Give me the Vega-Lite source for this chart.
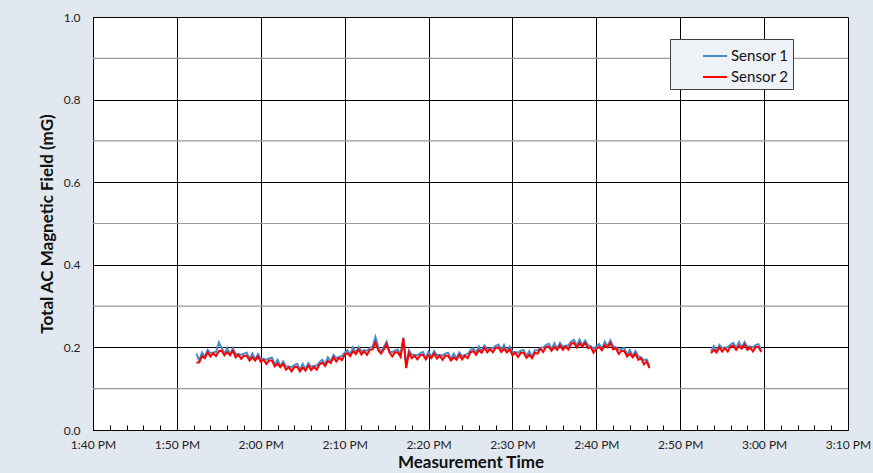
{
  "$schema": "https://vega.github.io/schema/vega-lite/v6.json",
  "autosize": {"type": "none"},
  "width": 755,
  "height": 413,
  "padding": {"left": 93, "top": 17, "right": 25, "bottom": 43},
  "background": "#e2e8f0",
  "config": {"font": "Lato", "view": {"fill": "white", "stroke": null}},
  "datasets": {
    "s1": [
      {"t":"2024-01-01T13:52:20","sensor":"Sensor 1","value":0.185,"segment":1},
      {"t":"2024-01-01T13:52:40","sensor":"Sensor 1","value":0.168,"segment":1},
      {"t":"2024-01-01T13:53:00","sensor":"Sensor 1","value":0.188,"segment":1},
      {"t":"2024-01-01T13:53:20","sensor":"Sensor 1","value":0.177,"segment":1},
      {"t":"2024-01-01T13:53:40","sensor":"Sensor 1","value":0.194,"segment":1},
      {"t":"2024-01-01T13:54:00","sensor":"Sensor 1","value":0.186,"segment":1},
      {"t":"2024-01-01T13:54:20","sensor":"Sensor 1","value":0.188,"segment":1},
      {"t":"2024-01-01T13:54:40","sensor":"Sensor 1","value":0.189,"segment":1},
      {"t":"2024-01-01T13:55:00","sensor":"Sensor 1","value":0.212,"segment":1},
      {"t":"2024-01-01T13:55:20","sensor":"Sensor 1","value":0.199,"segment":1},
      {"t":"2024-01-01T13:55:40","sensor":"Sensor 1","value":0.185,"segment":1},
      {"t":"2024-01-01T13:56:00","sensor":"Sensor 1","value":0.198,"segment":1},
      {"t":"2024-01-01T13:56:20","sensor":"Sensor 1","value":0.184,"segment":1},
      {"t":"2024-01-01T13:56:40","sensor":"Sensor 1","value":0.198,"segment":1},
      {"t":"2024-01-01T13:57:00","sensor":"Sensor 1","value":0.184,"segment":1},
      {"t":"2024-01-01T13:57:20","sensor":"Sensor 1","value":0.184,"segment":1},
      {"t":"2024-01-01T13:57:40","sensor":"Sensor 1","value":0.182,"segment":1},
      {"t":"2024-01-01T13:58:00","sensor":"Sensor 1","value":0.185,"segment":1},
      {"t":"2024-01-01T13:58:20","sensor":"Sensor 1","value":0.187,"segment":1},
      {"t":"2024-01-01T13:58:40","sensor":"Sensor 1","value":0.172,"segment":1},
      {"t":"2024-01-01T13:59:00","sensor":"Sensor 1","value":0.185,"segment":1},
      {"t":"2024-01-01T13:59:20","sensor":"Sensor 1","value":0.171,"segment":1},
      {"t":"2024-01-01T13:59:40","sensor":"Sensor 1","value":0.184,"segment":1},
      {"t":"2024-01-01T14:00:00","sensor":"Sensor 1","value":0.173,"segment":1},
      {"t":"2024-01-01T14:00:20","sensor":"Sensor 1","value":0.172,"segment":1},
      {"t":"2024-01-01T14:00:40","sensor":"Sensor 1","value":0.170,"segment":1},
      {"t":"2024-01-01T14:01:00","sensor":"Sensor 1","value":0.174,"segment":1},
      {"t":"2024-01-01T14:01:20","sensor":"Sensor 1","value":0.175,"segment":1},
      {"t":"2024-01-01T14:01:40","sensor":"Sensor 1","value":0.158,"segment":1},
      {"t":"2024-01-01T14:02:00","sensor":"Sensor 1","value":0.170,"segment":1},
      {"t":"2024-01-01T14:02:20","sensor":"Sensor 1","value":0.155,"segment":1},
      {"t":"2024-01-01T14:02:40","sensor":"Sensor 1","value":0.166,"segment":1},
      {"t":"2024-01-01T14:03:00","sensor":"Sensor 1","value":0.154,"segment":1},
      {"t":"2024-01-01T14:03:20","sensor":"Sensor 1","value":0.154,"segment":1},
      {"t":"2024-01-01T14:03:40","sensor":"Sensor 1","value":0.152,"segment":1},
      {"t":"2024-01-01T14:04:00","sensor":"Sensor 1","value":0.157,"segment":1},
      {"t":"2024-01-01T14:04:20","sensor":"Sensor 1","value":0.160,"segment":1},
      {"t":"2024-01-01T14:04:40","sensor":"Sensor 1","value":0.146,"segment":1},
      {"t":"2024-01-01T14:05:00","sensor":"Sensor 1","value":0.160,"segment":1},
      {"t":"2024-01-01T14:05:20","sensor":"Sensor 1","value":0.147,"segment":1},
      {"t":"2024-01-01T14:05:40","sensor":"Sensor 1","value":0.162,"segment":1},
      {"t":"2024-01-01T14:06:00","sensor":"Sensor 1","value":0.153,"segment":1},
      {"t":"2024-01-01T14:06:20","sensor":"Sensor 1","value":0.155,"segment":1},
      {"t":"2024-01-01T14:06:40","sensor":"Sensor 1","value":0.156,"segment":1},
      {"t":"2024-01-01T14:07:00","sensor":"Sensor 1","value":0.164,"segment":1},
      {"t":"2024-01-01T14:07:20","sensor":"Sensor 1","value":0.170,"segment":1},
      {"t":"2024-01-01T14:07:40","sensor":"Sensor 1","value":0.159,"segment":1},
      {"t":"2024-01-01T14:08:00","sensor":"Sensor 1","value":0.176,"segment":1},
      {"t":"2024-01-01T14:08:20","sensor":"Sensor 1","value":0.165,"segment":1},
      {"t":"2024-01-01T14:08:40","sensor":"Sensor 1","value":0.182,"segment":1},
      {"t":"2024-01-01T14:09:00","sensor":"Sensor 1","value":0.174,"segment":1},
      {"t":"2024-01-01T14:09:20","sensor":"Sensor 1","value":0.177,"segment":1},
      {"t":"2024-01-01T14:09:40","sensor":"Sensor 1","value":0.179,"segment":1},
      {"t":"2024-01-01T14:10:00","sensor":"Sensor 1","value":0.187,"segment":1},
      {"t":"2024-01-01T14:10:20","sensor":"Sensor 1","value":0.193,"segment":1},
      {"t":"2024-01-01T14:10:40","sensor":"Sensor 1","value":0.183,"segment":1},
      {"t":"2024-01-01T14:11:00","sensor":"Sensor 1","value":0.200,"segment":1},
      {"t":"2024-01-01T14:11:20","sensor":"Sensor 1","value":0.187,"segment":1},
      {"t":"2024-01-01T14:11:40","sensor":"Sensor 1","value":0.201,"segment":1},
      {"t":"2024-01-01T14:12:00","sensor":"Sensor 1","value":0.191,"segment":1},
      {"t":"2024-01-01T14:12:20","sensor":"Sensor 1","value":0.193,"segment":1},
      {"t":"2024-01-01T14:12:40","sensor":"Sensor 1","value":0.192,"segment":1},
      {"t":"2024-01-01T14:13:00","sensor":"Sensor 1","value":0.199,"segment":1},
      {"t":"2024-01-01T14:13:20","sensor":"Sensor 1","value":0.202,"segment":1},
      {"t":"2024-01-01T14:13:40","sensor":"Sensor 1","value":0.225,"segment":1},
      {"t":"2024-01-01T14:14:00","sensor":"Sensor 1","value":0.202,"segment":1},
      {"t":"2024-01-01T14:14:20","sensor":"Sensor 1","value":0.188,"segment":1},
      {"t":"2024-01-01T14:14:40","sensor":"Sensor 1","value":0.201,"segment":1},
      {"t":"2024-01-01T14:15:00","sensor":"Sensor 1","value":0.214,"segment":1},
      {"t":"2024-01-01T14:15:20","sensor":"Sensor 1","value":0.190,"segment":1},
      {"t":"2024-01-01T14:15:40","sensor":"Sensor 1","value":0.188,"segment":1},
      {"t":"2024-01-01T14:16:00","sensor":"Sensor 1","value":0.193,"segment":1},
      {"t":"2024-01-01T14:16:20","sensor":"Sensor 1","value":0.195,"segment":1},
      {"t":"2024-01-01T14:16:40","sensor":"Sensor 1","value":0.181,"segment":1},
      {"t":"2024-01-01T14:17:00","sensor":"Sensor 1","value":0.224,"segment":1},
      {"t":"2024-01-01T14:17:20","sensor":"Sensor 1","value":0.158,"segment":1},
      {"t":"2024-01-01T14:17:40","sensor":"Sensor 1","value":0.193,"segment":1},
      {"t":"2024-01-01T14:18:00","sensor":"Sensor 1","value":0.182,"segment":1},
      {"t":"2024-01-01T14:18:20","sensor":"Sensor 1","value":0.182,"segment":1},
      {"t":"2024-01-01T14:18:40","sensor":"Sensor 1","value":0.181,"segment":1},
      {"t":"2024-01-01T14:19:00","sensor":"Sensor 1","value":0.186,"segment":1},
      {"t":"2024-01-01T14:19:20","sensor":"Sensor 1","value":0.189,"segment":1},
      {"t":"2024-01-01T14:19:40","sensor":"Sensor 1","value":0.175,"segment":1},
      {"t":"2024-01-01T14:20:00","sensor":"Sensor 1","value":0.190,"segment":1},
      {"t":"2024-01-01T14:20:20","sensor":"Sensor 1","value":0.177,"segment":1},
      {"t":"2024-01-01T14:20:40","sensor":"Sensor 1","value":0.191,"segment":1},
      {"t":"2024-01-01T14:21:00","sensor":"Sensor 1","value":0.181,"segment":1},
      {"t":"2024-01-01T14:21:20","sensor":"Sensor 1","value":0.182,"segment":1},
      {"t":"2024-01-01T14:21:40","sensor":"Sensor 1","value":0.180,"segment":1},
      {"t":"2024-01-01T14:22:00","sensor":"Sensor 1","value":0.185,"segment":1},
      {"t":"2024-01-01T14:22:20","sensor":"Sensor 1","value":0.187,"segment":1},
      {"t":"2024-01-01T14:22:40","sensor":"Sensor 1","value":0.172,"segment":1},
      {"t":"2024-01-01T14:23:00","sensor":"Sensor 1","value":0.185,"segment":1},
      {"t":"2024-01-01T14:23:20","sensor":"Sensor 1","value":0.173,"segment":1},
      {"t":"2024-01-01T14:23:40","sensor":"Sensor 1","value":0.188,"segment":1},
      {"t":"2024-01-01T14:24:00","sensor":"Sensor 1","value":0.179,"segment":1},
      {"t":"2024-01-01T14:24:20","sensor":"Sensor 1","value":0.182,"segment":1},
      {"t":"2024-01-01T14:24:40","sensor":"Sensor 1","value":0.184,"segment":1},
      {"t":"2024-01-01T14:25:00","sensor":"Sensor 1","value":0.193,"segment":1},
      {"t":"2024-01-01T14:25:20","sensor":"Sensor 1","value":0.198,"segment":1},
      {"t":"2024-01-01T14:25:40","sensor":"Sensor 1","value":0.186,"segment":1},
      {"t":"2024-01-01T14:26:00","sensor":"Sensor 1","value":0.202,"segment":1},
      {"t":"2024-01-01T14:26:20","sensor":"Sensor 1","value":0.190,"segment":1},
      {"t":"2024-01-01T14:26:40","sensor":"Sensor 1","value":0.205,"segment":1},
      {"t":"2024-01-01T14:27:00","sensor":"Sensor 1","value":0.196,"segment":1},
      {"t":"2024-01-01T14:27:20","sensor":"Sensor 1","value":0.198,"segment":1},
      {"t":"2024-01-01T14:27:40","sensor":"Sensor 1","value":0.198,"segment":1},
      {"t":"2024-01-01T14:28:00","sensor":"Sensor 1","value":0.204,"segment":1},
      {"t":"2024-01-01T14:28:20","sensor":"Sensor 1","value":0.207,"segment":1},
      {"t":"2024-01-01T14:28:40","sensor":"Sensor 1","value":0.193,"segment":1},
      {"t":"2024-01-01T14:29:00","sensor":"Sensor 1","value":0.206,"segment":1},
      {"t":"2024-01-01T14:29:20","sensor":"Sensor 1","value":0.191,"segment":1},
      {"t":"2024-01-01T14:29:40","sensor":"Sensor 1","value":0.202,"segment":1},
      {"t":"2024-01-01T14:30:00","sensor":"Sensor 1","value":0.189,"segment":1},
      {"t":"2024-01-01T14:30:20","sensor":"Sensor 1","value":0.189,"segment":1},
      {"t":"2024-01-01T14:30:40","sensor":"Sensor 1","value":0.187,"segment":1},
      {"t":"2024-01-01T14:31:00","sensor":"Sensor 1","value":0.192,"segment":1},
      {"t":"2024-01-01T14:31:20","sensor":"Sensor 1","value":0.194,"segment":1},
      {"t":"2024-01-01T14:31:40","sensor":"Sensor 1","value":0.179,"segment":1},
      {"t":"2024-01-01T14:32:00","sensor":"Sensor 1","value":0.191,"segment":1},
      {"t":"2024-01-01T14:32:20","sensor":"Sensor 1","value":0.177,"segment":1},
      {"t":"2024-01-01T14:32:40","sensor":"Sensor 1","value":0.193,"segment":1},
      {"t":"2024-01-01T14:33:00","sensor":"Sensor 1","value":0.193,"segment":1},
      {"t":"2024-01-01T14:33:20","sensor":"Sensor 1","value":0.199,"segment":1},
      {"t":"2024-01-01T14:33:40","sensor":"Sensor 1","value":0.199,"segment":1},
      {"t":"2024-01-01T14:34:00","sensor":"Sensor 1","value":0.206,"segment":1},
      {"t":"2024-01-01T14:34:20","sensor":"Sensor 1","value":0.209,"segment":1},
      {"t":"2024-01-01T14:34:40","sensor":"Sensor 1","value":0.196,"segment":1},
      {"t":"2024-01-01T14:35:00","sensor":"Sensor 1","value":0.210,"segment":1},
      {"t":"2024-01-01T14:35:20","sensor":"Sensor 1","value":0.197,"segment":1},
      {"t":"2024-01-01T14:35:40","sensor":"Sensor 1","value":0.211,"segment":1},
      {"t":"2024-01-01T14:36:00","sensor":"Sensor 1","value":0.202,"segment":1},
      {"t":"2024-01-01T14:36:20","sensor":"Sensor 1","value":0.204,"segment":1},
      {"t":"2024-01-01T14:36:40","sensor":"Sensor 1","value":0.205,"segment":1},
      {"t":"2024-01-01T14:37:00","sensor":"Sensor 1","value":0.214,"segment":1},
      {"t":"2024-01-01T14:37:20","sensor":"Sensor 1","value":0.218,"segment":1},
      {"t":"2024-01-01T14:37:40","sensor":"Sensor 1","value":0.204,"segment":1},
      {"t":"2024-01-01T14:38:00","sensor":"Sensor 1","value":0.219,"segment":1},
      {"t":"2024-01-01T14:38:20","sensor":"Sensor 1","value":0.205,"segment":1},
      {"t":"2024-01-01T14:38:40","sensor":"Sensor 1","value":0.217,"segment":1},
      {"t":"2024-01-01T14:39:00","sensor":"Sensor 1","value":0.206,"segment":1},
      {"t":"2024-01-01T14:39:20","sensor":"Sensor 1","value":0.203,"segment":1},
      {"t":"2024-01-01T14:39:40","sensor":"Sensor 1","value":0.197,"segment":1},
      {"t":"2024-01-01T14:40:00","sensor":"Sensor 1","value":0.202,"segment":1},
      {"t":"2024-01-01T14:40:20","sensor":"Sensor 1","value":0.208,"segment":1},
      {"t":"2024-01-01T14:40:40","sensor":"Sensor 1","value":0.197,"segment":1},
      {"t":"2024-01-01T14:41:00","sensor":"Sensor 1","value":0.214,"segment":1},
      {"t":"2024-01-01T14:41:20","sensor":"Sensor 1","value":0.203,"segment":1},
      {"t":"2024-01-01T14:41:40","sensor":"Sensor 1","value":0.217,"segment":1},
      {"t":"2024-01-01T14:42:00","sensor":"Sensor 1","value":0.203,"segment":1},
      {"t":"2024-01-01T14:42:20","sensor":"Sensor 1","value":0.200,"segment":1},
      {"t":"2024-01-01T14:42:40","sensor":"Sensor 1","value":0.194,"segment":1},
      {"t":"2024-01-01T14:43:00","sensor":"Sensor 1","value":0.197,"segment":1},
      {"t":"2024-01-01T14:43:20","sensor":"Sensor 1","value":0.198,"segment":1},
      {"t":"2024-01-01T14:43:40","sensor":"Sensor 1","value":0.182,"segment":1},
      {"t":"2024-01-01T14:44:00","sensor":"Sensor 1","value":0.194,"segment":1},
      {"t":"2024-01-01T14:44:20","sensor":"Sensor 1","value":0.179,"segment":1},
      {"t":"2024-01-01T14:44:40","sensor":"Sensor 1","value":0.191,"segment":1},
      {"t":"2024-01-01T14:45:00","sensor":"Sensor 1","value":0.178,"segment":1},
      {"t":"2024-01-01T14:45:20","sensor":"Sensor 1","value":0.176,"segment":1},
      {"t":"2024-01-01T14:45:40","sensor":"Sensor 1","value":0.169,"segment":1},
      {"t":"2024-01-01T14:46:00","sensor":"Sensor 1","value":0.171,"segment":1},
      {"t":"2024-01-01T14:46:20","sensor":"Sensor 1","value":0.156,"segment":1},
      {"t":"2024-01-01T14:53:40","sensor":"Sensor 1","value":0.190,"segment":2},
      {"t":"2024-01-01T14:54:00","sensor":"Sensor 1","value":0.203,"segment":2},
      {"t":"2024-01-01T14:54:20","sensor":"Sensor 1","value":0.191,"segment":2},
      {"t":"2024-01-01T14:54:40","sensor":"Sensor 1","value":0.206,"segment":2},
      {"t":"2024-01-01T14:55:00","sensor":"Sensor 1","value":0.198,"segment":2},
      {"t":"2024-01-01T14:55:20","sensor":"Sensor 1","value":0.200,"segment":2},
      {"t":"2024-01-01T14:55:40","sensor":"Sensor 1","value":0.200,"segment":2},
      {"t":"2024-01-01T14:56:00","sensor":"Sensor 1","value":0.207,"segment":2},
      {"t":"2024-01-01T14:56:20","sensor":"Sensor 1","value":0.211,"segment":2},
      {"t":"2024-01-01T14:56:40","sensor":"Sensor 1","value":0.198,"segment":2},
      {"t":"2024-01-01T14:57:00","sensor":"Sensor 1","value":0.213,"segment":2},
      {"t":"2024-01-01T14:57:20","sensor":"Sensor 1","value":0.200,"segment":2},
      {"t":"2024-01-01T14:57:40","sensor":"Sensor 1","value":0.213,"segment":2},
      {"t":"2024-01-01T14:58:00","sensor":"Sensor 1","value":0.202,"segment":2},
      {"t":"2024-01-01T14:58:20","sensor":"Sensor 1","value":0.202,"segment":2},
      {"t":"2024-01-01T14:58:40","sensor":"Sensor 1","value":0.200,"segment":2},
      {"t":"2024-01-01T14:59:00","sensor":"Sensor 1","value":0.206,"segment":2},
      {"t":"2024-01-01T14:59:20","sensor":"Sensor 1","value":0.208,"segment":2},
      {"t":"2024-01-01T14:59:40","sensor":"Sensor 1","value":0.193,"segment":2}
    ],
    "s2": [
      {"t":"2024-01-01T13:52:20","sensor":"Sensor 2","value":0.163,"segment":1},
      {"t":"2024-01-01T13:52:40","sensor":"Sensor 2","value":0.164,"segment":1},
      {"t":"2024-01-01T13:53:00","sensor":"Sensor 2","value":0.179,"segment":1},
      {"t":"2024-01-01T13:53:20","sensor":"Sensor 2","value":0.174,"segment":1},
      {"t":"2024-01-01T13:53:40","sensor":"Sensor 2","value":0.188,"segment":1},
      {"t":"2024-01-01T13:54:00","sensor":"Sensor 2","value":0.178,"segment":1},
      {"t":"2024-01-01T13:54:20","sensor":"Sensor 2","value":0.186,"segment":1},
      {"t":"2024-01-01T13:54:40","sensor":"Sensor 2","value":0.179,"segment":1},
      {"t":"2024-01-01T13:55:00","sensor":"Sensor 2","value":0.191,"segment":1},
      {"t":"2024-01-01T13:55:20","sensor":"Sensor 2","value":0.192,"segment":1},
      {"t":"2024-01-01T13:55:40","sensor":"Sensor 2","value":0.181,"segment":1},
      {"t":"2024-01-01T13:56:00","sensor":"Sensor 2","value":0.189,"segment":1},
      {"t":"2024-01-01T13:56:20","sensor":"Sensor 2","value":0.181,"segment":1},
      {"t":"2024-01-01T13:56:40","sensor":"Sensor 2","value":0.192,"segment":1},
      {"t":"2024-01-01T13:57:00","sensor":"Sensor 2","value":0.176,"segment":1},
      {"t":"2024-01-01T13:57:20","sensor":"Sensor 2","value":0.182,"segment":1},
      {"t":"2024-01-01T13:57:40","sensor":"Sensor 2","value":0.172,"segment":1},
      {"t":"2024-01-01T13:58:00","sensor":"Sensor 2","value":0.180,"segment":1},
      {"t":"2024-01-01T13:58:20","sensor":"Sensor 2","value":0.180,"segment":1},
      {"t":"2024-01-01T13:58:40","sensor":"Sensor 2","value":0.168,"segment":1},
      {"t":"2024-01-01T13:59:00","sensor":"Sensor 2","value":0.176,"segment":1},
      {"t":"2024-01-01T13:59:20","sensor":"Sensor 2","value":0.168,"segment":1},
      {"t":"2024-01-01T13:59:40","sensor":"Sensor 2","value":0.178,"segment":1},
      {"t":"2024-01-01T14:00:00","sensor":"Sensor 2","value":0.165,"segment":1},
      {"t":"2024-01-01T14:00:20","sensor":"Sensor 2","value":0.170,"segment":1},
      {"t":"2024-01-01T14:00:40","sensor":"Sensor 2","value":0.160,"segment":1},
      {"t":"2024-01-01T14:01:00","sensor":"Sensor 2","value":0.169,"segment":1},
      {"t":"2024-01-01T14:01:20","sensor":"Sensor 2","value":0.168,"segment":1},
      {"t":"2024-01-01T14:01:40","sensor":"Sensor 2","value":0.154,"segment":1},
      {"t":"2024-01-01T14:02:00","sensor":"Sensor 2","value":0.161,"segment":1},
      {"t":"2024-01-01T14:02:20","sensor":"Sensor 2","value":0.152,"segment":1},
      {"t":"2024-01-01T14:02:40","sensor":"Sensor 2","value":0.160,"segment":1},
      {"t":"2024-01-01T14:03:00","sensor":"Sensor 2","value":0.146,"segment":1},
      {"t":"2024-01-01T14:03:20","sensor":"Sensor 2","value":0.152,"segment":1},
      {"t":"2024-01-01T14:03:40","sensor":"Sensor 2","value":0.142,"segment":1},
      {"t":"2024-01-01T14:04:00","sensor":"Sensor 2","value":0.152,"segment":1},
      {"t":"2024-01-01T14:04:20","sensor":"Sensor 2","value":0.153,"segment":1},
      {"t":"2024-01-01T14:04:40","sensor":"Sensor 2","value":0.142,"segment":1},
      {"t":"2024-01-01T14:05:00","sensor":"Sensor 2","value":0.151,"segment":1},
      {"t":"2024-01-01T14:05:20","sensor":"Sensor 2","value":0.144,"segment":1},
      {"t":"2024-01-01T14:05:40","sensor":"Sensor 2","value":0.156,"segment":1},
      {"t":"2024-01-01T14:06:00","sensor":"Sensor 2","value":0.145,"segment":1},
      {"t":"2024-01-01T14:06:20","sensor":"Sensor 2","value":0.153,"segment":1},
      {"t":"2024-01-01T14:06:40","sensor":"Sensor 2","value":0.146,"segment":1},
      {"t":"2024-01-01T14:07:00","sensor":"Sensor 2","value":0.159,"segment":1},
      {"t":"2024-01-01T14:07:20","sensor":"Sensor 2","value":0.163,"segment":1},
      {"t":"2024-01-01T14:07:40","sensor":"Sensor 2","value":0.155,"segment":1},
      {"t":"2024-01-01T14:08:00","sensor":"Sensor 2","value":0.167,"segment":1},
      {"t":"2024-01-01T14:08:20","sensor":"Sensor 2","value":0.162,"segment":1},
      {"t":"2024-01-01T14:08:40","sensor":"Sensor 2","value":0.176,"segment":1},
      {"t":"2024-01-01T14:09:00","sensor":"Sensor 2","value":0.166,"segment":1},
      {"t":"2024-01-01T14:09:20","sensor":"Sensor 2","value":0.175,"segment":1},
      {"t":"2024-01-01T14:09:40","sensor":"Sensor 2","value":0.169,"segment":1},
      {"t":"2024-01-01T14:10:00","sensor":"Sensor 2","value":0.182,"segment":1},
      {"t":"2024-01-01T14:10:20","sensor":"Sensor 2","value":0.186,"segment":1},
      {"t":"2024-01-01T14:10:40","sensor":"Sensor 2","value":0.179,"segment":1},
      {"t":"2024-01-01T14:11:00","sensor":"Sensor 2","value":0.191,"segment":1},
      {"t":"2024-01-01T14:11:20","sensor":"Sensor 2","value":0.184,"segment":1},
      {"t":"2024-01-01T14:11:40","sensor":"Sensor 2","value":0.195,"segment":1},
      {"t":"2024-01-01T14:12:00","sensor":"Sensor 2","value":0.183,"segment":1},
      {"t":"2024-01-01T14:12:20","sensor":"Sensor 2","value":0.191,"segment":1},
      {"t":"2024-01-01T14:12:40","sensor":"Sensor 2","value":0.182,"segment":1},
      {"t":"2024-01-01T14:13:00","sensor":"Sensor 2","value":0.194,"segment":1},
      {"t":"2024-01-01T14:13:20","sensor":"Sensor 2","value":0.195,"segment":1},
      {"t":"2024-01-01T14:13:40","sensor":"Sensor 2","value":0.212,"segment":1},
      {"t":"2024-01-01T14:14:00","sensor":"Sensor 2","value":0.193,"segment":1},
      {"t":"2024-01-01T14:14:20","sensor":"Sensor 2","value":0.185,"segment":1},
      {"t":"2024-01-01T14:14:40","sensor":"Sensor 2","value":0.195,"segment":1},
      {"t":"2024-01-01T14:15:00","sensor":"Sensor 2","value":0.208,"segment":1},
      {"t":"2024-01-01T14:15:20","sensor":"Sensor 2","value":0.188,"segment":1},
      {"t":"2024-01-01T14:15:40","sensor":"Sensor 2","value":0.178,"segment":1},
      {"t":"2024-01-01T14:16:00","sensor":"Sensor 2","value":0.188,"segment":1},
      {"t":"2024-01-01T14:16:20","sensor":"Sensor 2","value":0.188,"segment":1},
      {"t":"2024-01-01T14:16:40","sensor":"Sensor 2","value":0.177,"segment":1},
      {"t":"2024-01-01T14:17:00","sensor":"Sensor 2","value":0.222,"segment":1},
      {"t":"2024-01-01T14:17:20","sensor":"Sensor 2","value":0.150,"segment":1},
      {"t":"2024-01-01T14:17:40","sensor":"Sensor 2","value":0.187,"segment":1},
      {"t":"2024-01-01T14:18:00","sensor":"Sensor 2","value":0.174,"segment":1},
      {"t":"2024-01-01T14:18:20","sensor":"Sensor 2","value":0.180,"segment":1},
      {"t":"2024-01-01T14:18:40","sensor":"Sensor 2","value":0.171,"segment":1},
      {"t":"2024-01-01T14:19:00","sensor":"Sensor 2","value":0.181,"segment":1},
      {"t":"2024-01-01T14:19:20","sensor":"Sensor 2","value":0.182,"segment":1},
      {"t":"2024-01-01T14:19:40","sensor":"Sensor 2","value":0.171,"segment":1},
      {"t":"2024-01-01T14:20:00","sensor":"Sensor 2","value":0.181,"segment":1},
      {"t":"2024-01-01T14:20:20","sensor":"Sensor 2","value":0.174,"segment":1},
      {"t":"2024-01-01T14:20:40","sensor":"Sensor 2","value":0.185,"segment":1},
      {"t":"2024-01-01T14:21:00","sensor":"Sensor 2","value":0.173,"segment":1},
      {"t":"2024-01-01T14:21:20","sensor":"Sensor 2","value":0.180,"segment":1},
      {"t":"2024-01-01T14:21:40","sensor":"Sensor 2","value":0.170,"segment":1},
      {"t":"2024-01-01T14:22:00","sensor":"Sensor 2","value":0.180,"segment":1},
      {"t":"2024-01-01T14:22:20","sensor":"Sensor 2","value":0.180,"segment":1},
      {"t":"2024-01-01T14:22:40","sensor":"Sensor 2","value":0.168,"segment":1},
      {"t":"2024-01-01T14:23:00","sensor":"Sensor 2","value":0.176,"segment":1},
      {"t":"2024-01-01T14:23:20","sensor":"Sensor 2","value":0.170,"segment":1},
      {"t":"2024-01-01T14:23:40","sensor":"Sensor 2","value":0.182,"segment":1},
      {"t":"2024-01-01T14:24:00","sensor":"Sensor 2","value":0.171,"segment":1},
      {"t":"2024-01-01T14:24:20","sensor":"Sensor 2","value":0.180,"segment":1},
      {"t":"2024-01-01T14:24:40","sensor":"Sensor 2","value":0.174,"segment":1},
      {"t":"2024-01-01T14:25:00","sensor":"Sensor 2","value":0.188,"segment":1},
      {"t":"2024-01-01T14:25:20","sensor":"Sensor 2","value":0.191,"segment":1},
      {"t":"2024-01-01T14:25:40","sensor":"Sensor 2","value":0.182,"segment":1},
      {"t":"2024-01-01T14:26:00","sensor":"Sensor 2","value":0.193,"segment":1},
      {"t":"2024-01-01T14:26:20","sensor":"Sensor 2","value":0.187,"segment":1},
      {"t":"2024-01-01T14:26:40","sensor":"Sensor 2","value":0.199,"segment":1},
      {"t":"2024-01-01T14:27:00","sensor":"Sensor 2","value":0.188,"segment":1},
      {"t":"2024-01-01T14:27:20","sensor":"Sensor 2","value":0.196,"segment":1},
      {"t":"2024-01-01T14:27:40","sensor":"Sensor 2","value":0.188,"segment":1},
      {"t":"2024-01-01T14:28:00","sensor":"Sensor 2","value":0.199,"segment":1},
      {"t":"2024-01-01T14:28:20","sensor":"Sensor 2","value":0.200,"segment":1},
      {"t":"2024-01-01T14:28:40","sensor":"Sensor 2","value":0.189,"segment":1},
      {"t":"2024-01-01T14:29:00","sensor":"Sensor 2","value":0.197,"segment":1},
      {"t":"2024-01-01T14:29:20","sensor":"Sensor 2","value":0.188,"segment":1},
      {"t":"2024-01-01T14:29:40","sensor":"Sensor 2","value":0.196,"segment":1},
      {"t":"2024-01-01T14:30:00","sensor":"Sensor 2","value":0.181,"segment":1},
      {"t":"2024-01-01T14:30:20","sensor":"Sensor 2","value":0.187,"segment":1},
      {"t":"2024-01-01T14:30:40","sensor":"Sensor 2","value":0.177,"segment":1},
      {"t":"2024-01-01T14:31:00","sensor":"Sensor 2","value":0.187,"segment":1},
      {"t":"2024-01-01T14:31:20","sensor":"Sensor 2","value":0.187,"segment":1},
      {"t":"2024-01-01T14:31:40","sensor":"Sensor 2","value":0.175,"segment":1},
      {"t":"2024-01-01T14:32:00","sensor":"Sensor 2","value":0.182,"segment":1},
      {"t":"2024-01-01T14:32:20","sensor":"Sensor 2","value":0.174,"segment":1},
      {"t":"2024-01-01T14:32:40","sensor":"Sensor 2","value":0.187,"segment":1},
      {"t":"2024-01-01T14:33:00","sensor":"Sensor 2","value":0.185,"segment":1},
      {"t":"2024-01-01T14:33:20","sensor":"Sensor 2","value":0.197,"segment":1},
      {"t":"2024-01-01T14:33:40","sensor":"Sensor 2","value":0.189,"segment":1},
      {"t":"2024-01-01T14:34:00","sensor":"Sensor 2","value":0.201,"segment":1},
      {"t":"2024-01-01T14:34:20","sensor":"Sensor 2","value":0.202,"segment":1},
      {"t":"2024-01-01T14:34:40","sensor":"Sensor 2","value":0.192,"segment":1},
      {"t":"2024-01-01T14:35:00","sensor":"Sensor 2","value":0.201,"segment":1},
      {"t":"2024-01-01T14:35:20","sensor":"Sensor 2","value":0.194,"segment":1},
      {"t":"2024-01-01T14:35:40","sensor":"Sensor 2","value":0.205,"segment":1},
      {"t":"2024-01-01T14:36:00","sensor":"Sensor 2","value":0.194,"segment":1},
      {"t":"2024-01-01T14:36:20","sensor":"Sensor 2","value":0.202,"segment":1},
      {"t":"2024-01-01T14:36:40","sensor":"Sensor 2","value":0.195,"segment":1},
      {"t":"2024-01-01T14:37:00","sensor":"Sensor 2","value":0.209,"segment":1},
      {"t":"2024-01-01T14:37:20","sensor":"Sensor 2","value":0.211,"segment":1},
      {"t":"2024-01-01T14:37:40","sensor":"Sensor 2","value":0.200,"segment":1},
      {"t":"2024-01-01T14:38:00","sensor":"Sensor 2","value":0.210,"segment":1},
      {"t":"2024-01-01T14:38:20","sensor":"Sensor 2","value":0.202,"segment":1},
      {"t":"2024-01-01T14:38:40","sensor":"Sensor 2","value":0.211,"segment":1},
      {"t":"2024-01-01T14:39:00","sensor":"Sensor 2","value":0.198,"segment":1},
      {"t":"2024-01-01T14:39:20","sensor":"Sensor 2","value":0.201,"segment":1},
      {"t":"2024-01-01T14:39:40","sensor":"Sensor 2","value":0.187,"segment":1},
      {"t":"2024-01-01T14:40:00","sensor":"Sensor 2","value":0.197,"segment":1},
      {"t":"2024-01-01T14:40:20","sensor":"Sensor 2","value":0.201,"segment":1},
      {"t":"2024-01-01T14:40:40","sensor":"Sensor 2","value":0.193,"segment":1},
      {"t":"2024-01-01T14:41:00","sensor":"Sensor 2","value":0.205,"segment":1},
      {"t":"2024-01-01T14:41:20","sensor":"Sensor 2","value":0.200,"segment":1},
      {"t":"2024-01-01T14:41:40","sensor":"Sensor 2","value":0.211,"segment":1},
      {"t":"2024-01-01T14:42:00","sensor":"Sensor 2","value":0.195,"segment":1},
      {"t":"2024-01-01T14:42:20","sensor":"Sensor 2","value":0.198,"segment":1},
      {"t":"2024-01-01T14:42:40","sensor":"Sensor 2","value":0.184,"segment":1},
      {"t":"2024-01-01T14:43:00","sensor":"Sensor 2","value":0.192,"segment":1},
      {"t":"2024-01-01T14:43:20","sensor":"Sensor 2","value":0.191,"segment":1},
      {"t":"2024-01-01T14:43:40","sensor":"Sensor 2","value":0.178,"segment":1},
      {"t":"2024-01-01T14:44:00","sensor":"Sensor 2","value":0.185,"segment":1},
      {"t":"2024-01-01T14:44:20","sensor":"Sensor 2","value":0.176,"segment":1},
      {"t":"2024-01-01T14:44:40","sensor":"Sensor 2","value":0.185,"segment":1},
      {"t":"2024-01-01T14:45:00","sensor":"Sensor 2","value":0.170,"segment":1},
      {"t":"2024-01-01T14:45:20","sensor":"Sensor 2","value":0.174,"segment":1},
      {"t":"2024-01-01T14:45:40","sensor":"Sensor 2","value":0.159,"segment":1},
      {"t":"2024-01-01T14:46:00","sensor":"Sensor 2","value":0.166,"segment":1},
      {"t":"2024-01-01T14:46:20","sensor":"Sensor 2","value":0.150,"segment":1},
      {"t":"2024-01-01T14:53:40","sensor":"Sensor 2","value":0.186,"segment":2},
      {"t":"2024-01-01T14:54:00","sensor":"Sensor 2","value":0.194,"segment":2},
      {"t":"2024-01-01T14:54:20","sensor":"Sensor 2","value":0.188,"segment":2},
      {"t":"2024-01-01T14:54:40","sensor":"Sensor 2","value":0.200,"segment":2},
      {"t":"2024-01-01T14:55:00","sensor":"Sensor 2","value":0.190,"segment":2},
      {"t":"2024-01-01T14:55:20","sensor":"Sensor 2","value":0.198,"segment":2},
      {"t":"2024-01-01T14:55:40","sensor":"Sensor 2","value":0.190,"segment":2},
      {"t":"2024-01-01T14:56:00","sensor":"Sensor 2","value":0.202,"segment":2},
      {"t":"2024-01-01T14:56:20","sensor":"Sensor 2","value":0.204,"segment":2},
      {"t":"2024-01-01T14:56:40","sensor":"Sensor 2","value":0.194,"segment":2},
      {"t":"2024-01-01T14:57:00","sensor":"Sensor 2","value":0.204,"segment":2},
      {"t":"2024-01-01T14:57:20","sensor":"Sensor 2","value":0.197,"segment":2},
      {"t":"2024-01-01T14:57:40","sensor":"Sensor 2","value":0.207,"segment":2},
      {"t":"2024-01-01T14:58:00","sensor":"Sensor 2","value":0.194,"segment":2},
      {"t":"2024-01-01T14:58:20","sensor":"Sensor 2","value":0.200,"segment":2},
      {"t":"2024-01-01T14:58:40","sensor":"Sensor 2","value":0.190,"segment":2},
      {"t":"2024-01-01T14:59:00","sensor":"Sensor 2","value":0.201,"segment":2},
      {"t":"2024-01-01T14:59:20","sensor":"Sensor 2","value":0.201,"segment":2},
      {"t":"2024-01-01T14:59:40","sensor":"Sensor 2","value":0.189,"segment":2}
    ],
    "minorGrid": [
      {"level": 0.1}, {"level": 0.3}, {"level": 0.5}, {"level": 0.7}, {"level": 0.9}
    ]
  },
  "resolve": {"axis": {"x": "independent", "y": "independent"}},
  "layer": [
    {
      "data": {"name": "s1"},
      "mark": {"type": "line", "strokeWidth": 2},
      "encoding": {
        "x": {
          "field": "t",
          "type": "temporal",
          "scale": {
            "domain": [
              {"year": 2024, "month": 1, "date": 1, "hours": 13, "minutes": 40},
              {"year": 2024, "month": 1, "date": 1, "hours": 15, "minutes": 10}
            ],
            "nice": false
          },
          "axis": {
            "orient": "bottom",
            "title": "Measurement Time",
            "titleFontSize": 17,
            "titleFontWeight": "bold",
            "titleColor": "#111",
            "titlePadding": 4,
            "values": [
              {"year": 2024, "month": 1, "date": 1, "hours": 13, "minutes": 40},
              {"year": 2024, "month": 1, "date": 1, "hours": 13, "minutes": 50},
              {"year": 2024, "month": 1, "date": 1, "hours": 14, "minutes": 0},
              {"year": 2024, "month": 1, "date": 1, "hours": 14, "minutes": 10},
              {"year": 2024, "month": 1, "date": 1, "hours": 14, "minutes": 20},
              {"year": 2024, "month": 1, "date": 1, "hours": 14, "minutes": 30},
              {"year": 2024, "month": 1, "date": 1, "hours": 14, "minutes": 40},
              {"year": 2024, "month": 1, "date": 1, "hours": 14, "minutes": 50},
              {"year": 2024, "month": 1, "date": 1, "hours": 15, "minutes": 0},
              {"year": 2024, "month": 1, "date": 1, "hours": 15, "minutes": 10}
            ],
            "format": "%-I:%M %p",
            "labelFlush": false,
            "labelOverlap": false,
            "labelFontSize": 12,
            "labelColor": "#222",
            "labelPadding": 9,
            "ticks": false,
            "domainColor": "#000",
            "grid": true,
            "gridColor": "#000",
            "gridOpacity": 1
          }
        },
        "y": {
          "field": "value",
          "type": "quantitative",
          "scale": {"domain": [0, 1], "nice": false},
          "axis": {
            "orient": "left",
            "title": "Total AC Magnetic Field (mG)",
            "titleFontSize": 17,
            "titleFontWeight": "bold",
            "titleColor": "#111",
            "titlePadding": 7,
            "values": [0, 0.2, 0.4, 0.6, 0.8, 1.0],
            "format": ".1f",
            "labelFontSize": 12,
            "labelColor": "#222",
            "labelPadding": 13,
            "ticks": false,
            "domainColor": "#000",
            "grid": true,
            "gridColor": "#000",
            "gridOpacity": 1
          }
        },
        "color": {
          "field": "sensor",
          "type": "nominal",
          "scale": {"domain": ["Sensor 1", "Sensor 2"], "range": ["#4a8cc8", "#ff0000"]},
          "legend": {
            "title": null,
            "orient": "none",
            "legendX": 577,
            "legendY": 22,
            "fillColor": "#eef2f7",
            "strokeColor": "#404040",
            "padding": 4,
            "symbolOffset": 28,
            "symbolType": "stroke",
            "symbolSize": 576,
            "symbolStrokeWidth": 2,
            "labelFontSize": 15,
            "labelColor": "#111",
            "labelOffset": 3,
            "rowPadding": 0
          }
        },
        "detail": {"field": "segment", "type": "nominal"}
      }
    },
    {
      "data": {"name": "s2"},
      "mark": {"type": "line", "strokeWidth": 2},
      "encoding": {
        "x": {
          "field": "t",
          "type": "temporal",
          "axis": {
            "orient": "bottom",
            "title": null,
            "values": [
              {"year": 2024, "month": 1, "date": 1, "hours": 13, "minutes": 40},
              {"year": 2024, "month": 1, "date": 1, "hours": 13, "minutes": 42},
              {"year": 2024, "month": 1, "date": 1, "hours": 13, "minutes": 44},
              {"year": 2024, "month": 1, "date": 1, "hours": 13, "minutes": 46},
              {"year": 2024, "month": 1, "date": 1, "hours": 13, "minutes": 48},
              {"year": 2024, "month": 1, "date": 1, "hours": 13, "minutes": 50},
              {"year": 2024, "month": 1, "date": 1, "hours": 13, "minutes": 52},
              {"year": 2024, "month": 1, "date": 1, "hours": 13, "minutes": 54},
              {"year": 2024, "month": 1, "date": 1, "hours": 13, "minutes": 56},
              {"year": 2024, "month": 1, "date": 1, "hours": 13, "minutes": 58},
              {"year": 2024, "month": 1, "date": 1, "hours": 14, "minutes": 0},
              {"year": 2024, "month": 1, "date": 1, "hours": 14, "minutes": 2},
              {"year": 2024, "month": 1, "date": 1, "hours": 14, "minutes": 4},
              {"year": 2024, "month": 1, "date": 1, "hours": 14, "minutes": 6},
              {"year": 2024, "month": 1, "date": 1, "hours": 14, "minutes": 8},
              {"year": 2024, "month": 1, "date": 1, "hours": 14, "minutes": 10},
              {"year": 2024, "month": 1, "date": 1, "hours": 14, "minutes": 12},
              {"year": 2024, "month": 1, "date": 1, "hours": 14, "minutes": 14},
              {"year": 2024, "month": 1, "date": 1, "hours": 14, "minutes": 16},
              {"year": 2024, "month": 1, "date": 1, "hours": 14, "minutes": 18},
              {"year": 2024, "month": 1, "date": 1, "hours": 14, "minutes": 20},
              {"year": 2024, "month": 1, "date": 1, "hours": 14, "minutes": 22},
              {"year": 2024, "month": 1, "date": 1, "hours": 14, "minutes": 24},
              {"year": 2024, "month": 1, "date": 1, "hours": 14, "minutes": 26},
              {"year": 2024, "month": 1, "date": 1, "hours": 14, "minutes": 28},
              {"year": 2024, "month": 1, "date": 1, "hours": 14, "minutes": 30},
              {"year": 2024, "month": 1, "date": 1, "hours": 14, "minutes": 32},
              {"year": 2024, "month": 1, "date": 1, "hours": 14, "minutes": 34},
              {"year": 2024, "month": 1, "date": 1, "hours": 14, "minutes": 36},
              {"year": 2024, "month": 1, "date": 1, "hours": 14, "minutes": 38},
              {"year": 2024, "month": 1, "date": 1, "hours": 14, "minutes": 40},
              {"year": 2024, "month": 1, "date": 1, "hours": 14, "minutes": 42},
              {"year": 2024, "month": 1, "date": 1, "hours": 14, "minutes": 44},
              {"year": 2024, "month": 1, "date": 1, "hours": 14, "minutes": 46},
              {"year": 2024, "month": 1, "date": 1, "hours": 14, "minutes": 48},
              {"year": 2024, "month": 1, "date": 1, "hours": 14, "minutes": 50},
              {"year": 2024, "month": 1, "date": 1, "hours": 14, "minutes": 52},
              {"year": 2024, "month": 1, "date": 1, "hours": 14, "minutes": 54},
              {"year": 2024, "month": 1, "date": 1, "hours": 14, "minutes": 56},
              {"year": 2024, "month": 1, "date": 1, "hours": 14, "minutes": 58},
              {"year": 2024, "month": 1, "date": 1, "hours": 15, "minutes": 0},
              {"year": 2024, "month": 1, "date": 1, "hours": 15, "minutes": 2},
              {"year": 2024, "month": 1, "date": 1, "hours": 15, "minutes": 4},
              {"year": 2024, "month": 1, "date": 1, "hours": 15, "minutes": 6},
              {"year": 2024, "month": 1, "date": 1, "hours": 15, "minutes": 8},
              {"year": 2024, "month": 1, "date": 1, "hours": 15, "minutes": 10}
            ],
            "labels": false,
            "domain": false,
            "grid": false,
            "ticks": true,
            "tickSize": 5,
            "tickColor": "#000",
            "offset": -5
          }
        },
        "y": {"field": "value", "type": "quantitative", "axis": null},
        "color": {"field": "sensor", "type": "nominal"},
        "detail": {"field": "segment", "type": "nominal"}
      }
    },
    {
      "data": {"name": "minorGrid"},
      "mark": {"type": "rule", "stroke": "#999999", "strokeWidth": 1.2, "opacity": 1},
      "encoding": {
        "x": {"value": 0},
        "x2": {"value": "width"},
        "y": {"field": "level", "type": "quantitative", "axis": null}
      }
    }
  ]
}
